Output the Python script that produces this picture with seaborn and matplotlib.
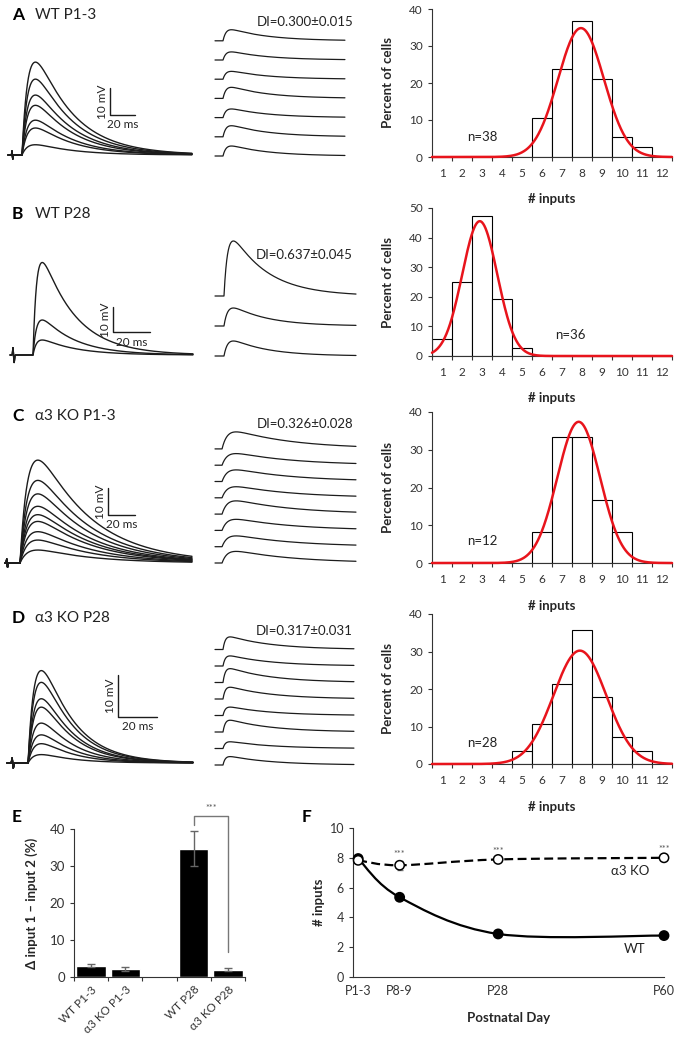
import numpy as np
import pandas as pd
import matplotlib.pyplot as plt
import seaborn as sns
from matplotlib.path import Path
from matplotlib.patches import PathPatch

W, H = 681, 1042

# ---------------- data ----------------
inputs = list(range(1, 13))
pct_wt_p13 = [0, 0, 0, 0, 0, 10.5, 23.7, 36.8, 21.1, 5.3, 2.6, 0]
pct_wt_p28 = [5.6, 25.0, 47.2, 19.4, 2.8, 0, 0, 0, 0, 0, 0, 0]
pct_ko_p13 = [0, 0, 0, 0, 0, 8.3, 33.3, 33.3, 16.7, 8.3, 0, 0]
pct_ko_p28 = [0, 0, 0, 0, 3.6, 10.7, 21.4, 35.7, 17.9, 7.1, 3.6, 0]
n_cells = [38, 36, 12, 28]
group_titles = ['WT P1-3', 'WT P28', 'α3 KO P1-3', 'α3 KO P28']
di_labels = ['DI=0.300±0.015', 'DI=0.637±0.045', 'DI=0.326±0.028', 'DI=0.317±0.031']

# superimposed EPSPs, peak amplitude (mV)
amp_left_a = [34.4, 28.1, 22.2, 18.4, 12.9, 10.0, 3.8]
amp_left_b = [37.0, 14.0, 6.0]
amp_left_c = [38.1, 30.6, 25.6, 21.0, 17.9, 15.4, 11.6, 8.5, 4.8]
amp_left_d = [22.0, 19.2, 15.3, 13.3, 9.5, 6.7, 4.6, 2.0]
# single-input traces, top to bottom (mV)
amp_right_a = [4.1, 3.0, 2.9, 4.1, 3.2, 4.1, 3.7]
amp_right_b = [22.0, 7.2, 6.0]
amp_right_c = [6.3, 4.3, 4.3, 4.1, 4.9, 4.1, 4.0, 4.3]
amp_right_d = [3.0, 2.4, 3.3, 2.8, 2.0, 2.8, 1.6, 2.0]

# panel E
e_groups = ['WT P1-3', 'α3 KO P1-3', 'WT P28', 'α3 KO P28']
e_delta = [3.1, 2.2, 34.7, 2.0]
e_sem = [0.4, 0.5, 4.7, 0.5]

# panel F
f_days = [1, 9, 28, 60]
f_day_labels = ['P1-3', 'P8-9', 'P28', 'P60']
f_wt = [7.95, 5.35, 2.89, 2.78]
f_ko = [7.83, 7.50, 7.89, 8.00]
f_wt_err = [0.12, 0.1, 0.1, 0.1]
f_ko_err = [0.2, 0.3, 0.1, 0.1]

# ---------------- style ----------------
sns.set_style('ticks')
plt.rcParams['font.family'] = ['Lato', 'DejaVu Sans']
plt.rcParams['axes.edgecolor'] = '#333333'
plt.rcParams['xtick.color'] = '#333333'
plt.rcParams['ytick.color'] = '#333333'
plt.rcParams['text.color'] = '#222222'

fig = plt.figure(figsize=(W / 100, H / 100), dpi=100)


def px_ax(l, t, r, b):
    return fig.add_axes([l / W, 1 - b / H, (r - l) / W, (b - t) / H])


def ftext(x, y, s, **kw):
    fig.text(x / W, 1 - y / H, s, **kw)


def epsp(t, onset, tr, td):
    s = np.clip(t - onset, 0, None)
    tp = np.log(td / tr) * tr * td / (td - tr)
    peak = np.exp(-tp / td) - np.exp(-tp / tr)
    return (np.exp(-s / td) - np.exp(-s / tr)) / peak


def artifact(t, ta, a):
    return a * (np.exp(-((t - ta) / 0.25) ** 2) - np.exp(-((t - ta - 0.6) / 0.3) ** 2))


TRACE_LAYOUT = {
    'A': dict(xs=8, xe=192, base=155, pxms=1.25, pxmv=2.7, t_art=3.2, art=1.5, onset=11.2, tr=5, td=30,
              rxs=215, rxe=345, rbase=156, rsp=19.2, ronset=6.4, rtr=2.5, rtd=30, bar=(110, 115)),
    'B': dict(xs=10, xe=193, base=355, pxms=1.87, pxmv=2.5, t_art=1.6, art=3.0, onset=12.3, tr=2, td=18,
              rxs=215, rxe=356, rbase=356, rsp=30, ronset=4.8, rtr=2, rtd=19, bar=(113, 332)),
    'C': dict(xs=5, xe=192, base=563, pxms=1.33, pxmv=2.7, t_art=1.3, art=1.5, onset=11.3, tr=6, td=40,
              rxs=215, rxe=356, rbase=563, rsp=16.3, ronset=5.3, rtr=4, rtd=45, bar=(108, 515)),
    'D': dict(xs=7, xe=193, base=763, pxms=1.95, pxmv=4.2, t_art=2.6, art=1.2, onset=10.8, tr=3.5, td=16,
              rxs=215, rxe=354, rbase=765, rsp=16.5, ronset=4.1, rtr=1.2, rtd=22, bar=(118, 717)),
}
left_amps = [amp_left_a, amp_left_b, amp_left_c, amp_left_d]
right_amps = [amp_right_a, amp_right_b, amp_right_c, amp_right_d]
title_y = [15, 214, 416, 618]
di_y = [22, 255, 424, 631]
trace_col = '#1c1c1c'

for k, key in enumerate('ABCD'):
    L = TRACE_LAYOUT[key]
    # left: superimposed responses
    ax = px_ax(L['xs'] - 3, L['base'] - 118, L['xe'] + 3, L['base'] + 12)
    ax.set_xlim(-3 / L['pxms'], (L['xe'] - L['xs'] + 3) / L['pxms'])
    ax.set_ylim(-12 / L['pxmv'], 118 / L['pxmv'])
    ax.axis('off')
    t = np.arange(0, (L['xe'] - L['xs']) / L['pxms'], 0.05)
    for a in left_amps[k]:
        v = a * epsp(t, L['onset'], L['tr'], L['td']) + artifact(t, L['t_art'], L['art'])
        ax.plot(t, v, color=trace_col, lw=1.0)
    # scale bar
    cx, cy = L['bar']
    tc = (cx - L['xs']) / L['pxms']
    vc = (L['base'] - cy) / L['pxmv']
    ax.plot([tc, tc, tc + 20], [vc + 10, vc, vc], color=trace_col, lw=1.0, clip_on=False)
    ftext(cx - 7, cy - 5 * L['pxmv'], '10 mV', rotation=90, ha='center', va='center', fontsize=8.5)
    ftext(cx + 10 * L['pxms'], cy + 10, '20 ms', ha='center', va='center', fontsize=8.5)

    # right: individual inputs, stacked
    amps = right_amps[k]
    n = len(amps)
    top_base = L['rbase'] - (n - 1) * L['rsp']
    y_top = top_base - max(amps) * L['pxmv'] - 8
    ax = px_ax(L['rxs'] - 2, y_top, L['rxe'] + 2, L['rbase'] + 8)
    ax.set_xlim(-2 / L['pxms'], (L['rxe'] - L['rxs'] + 2) / L['pxms'])
    ax.set_ylim(-8 / L['pxmv'], (L['rbase'] - y_top) / L['pxmv'])
    ax.axis('off')
    tr_ = np.arange(0, (L['rxe'] - L['rxs']) / L['pxms'], 0.05)
    for i, a in enumerate(amps):
        off = (n - 1 - i) * L['rsp'] / L['pxmv']
        ax.plot(tr_, off + a * epsp(tr_, L['ronset'], L['rtr'], L['rtd']), color=trace_col, lw=0.9)

    ftext(12, title_y[k], key, fontsize=12.5, fontweight='bold', ha='left', va='center', color='black')
    ftext(35, title_y[k], group_titles[k], fontsize=11, ha='left', va='center')
    ftext(353, di_y[k], di_labels[k], fontsize=9.5, ha='right', va='center')

# ---------------- histograms ----------------
HIST_LAYOUT = [(9, 157, 40), (208, 356, 50), (412, 563, 40), (614, 764, 40)]
n_pos = [(2, 5.4), (6.4, 7.1), (2, 5.7), (2, 5.7)]
hist_data = [pct_wt_p13, pct_wt_p28, pct_ko_p13, pct_ko_p28]

for k, (top, bot, ymax) in enumerate(HIST_LAYOUT):
    ax = px_ax(432, top, 672, bot)
    df = pd.DataFrame({'inputs': inputs, 'pct': hist_data[k]})
    sns.barplot(data=df, x='inputs', y='pct', order=inputs, color='white', saturation=1,
                edgecolor='black', linewidth=0.8, width=1.0, ax=ax)
    x = np.array(inputs, dtype=float)
    p = np.array(hist_data[k]) / np.sum(hist_data[k])
    mu = np.sum(x * p)
    sd = np.sqrt(np.sum((x - mu) ** 2 * p))
    xg = np.linspace(0.5, 12.5, 400)
    yg = 100 * np.exp(-0.5 * ((xg - mu) / sd) ** 2) / (sd * np.sqrt(2 * np.pi))
    ax.plot(xg - 1, yg, color='#e8141c', lw=1.8, zorder=6, clip_on=False)
    ax.set_xlim(-0.5, 11.5)
    ax.set_ylim(0, ymax)
    ax.set_yticks(np.arange(0, ymax + 1, 10))
    ax.set_xticks(np.arange(-0.5, 12, 1))
    ax.set_xticklabels([])
    ax.set_xticks(range(12), minor=True)
    ax.set_xticklabels(inputs, minor=True)
    ax.tick_params(axis='x', which='major', length=3, width=0.8)
    ax.tick_params(axis='x', which='minor', length=0, pad=8, labelsize=8.5)
    ax.tick_params(axis='y', length=3, width=0.8, labelsize=8.5)
    sns.despine(ax=ax)
    ax.set_ylabel('Percent of cells', fontsize=9.5, fontweight='bold')
    ax.set_xlabel('# inputs', fontsize=9.5, fontweight='bold')
    ax.yaxis.set_label_coords(-0.16, 0.5)
    ax.xaxis.set_label_coords(0.5, -0.245)
    ax.text(n_pos[k][0], n_pos[k][1], f'n={n_cells[k]}', ha='center', va='center', fontsize=9.5)

# ---------------- panel E ----------------
ax = px_ax(74, 829, 245, 977)
e_order = ['WT P1-3', 'α3 KO P1-3', ' ', 'WT P28', 'α3 KO P28']
df_e = pd.DataFrame({'group': e_groups, 'delta': e_delta})
sns.barplot(data=df_e, x='group', y='delta', order=e_order, color='black', saturation=1,
            width=0.86, errorbar=None, ax=ax)
pos = [e_order.index(g) for g in e_groups]
ax.errorbar(pos, e_delta, yerr=e_sem, fmt='none', ecolor='#666666', elinewidth=1.0, capsize=3, capthick=1.0)
ax.set_xlim(-0.5, 4.5)
ax.set_ylim(0, 40)
ax.set_yticks([0, 10, 20, 30, 40])
ax.set_xticks(np.arange(-0.5, 5, 1))
ax.set_xticklabels([])
ax.set_xticks(range(5), minor=True)
ax.set_xticklabels(e_order, minor=True, rotation=45, ha='right', rotation_mode='anchor')
ax.tick_params(axis='x', which='major', length=3, width=0.8)
ax.tick_params(axis='x', which='minor', length=0, pad=5, labelsize=8.5)
ax.tick_params(axis='y', length=3, width=0.8, labelsize=9.5)
sns.despine(ax=ax)
ax.set_xlabel('')
ax.set_ylabel('Δ input 1 – input 2 (%)', fontsize=9.5, fontweight='bold')
ax.yaxis.set_label_coords(-0.21, 0.5)
# significance bracket between WT P28 and a3 KO P28
i3, i4 = pos[2], pos[3]
y_top = 43.6
ax.plot([i3, i3, i4, i4], [e_delta[2] + e_sem[2] + 1.8, y_top, y_top, e_delta[3] + e_sem[3] + 4.3],
        color='#777777', lw=1.0, clip_on=False)
ax.text((i3 + i4) / 2, y_top + 0.8, '***', ha='center', va='bottom', fontsize=6.5, color='#555555')
ftext(12, 817, 'E', fontsize=12.5, fontweight='bold', ha='left', va='center', color='black')

# ---------------- panel F ----------------
ax = px_ax(353, 828, 664, 977)


def smooth_path(xs, ys):
    pts = np.column_stack([xs, ys]).astype(float)
    P = np.vstack([pts[0], pts, pts[-1]])
    verts = [pts[0]]
    codes = [Path.MOVETO]
    for i in range(1, len(P) - 2):
        p0, p1, p2, p3 = P[i - 1], P[i], P[i + 1], P[i + 2]
        verts += [p1 + (p2 - p0) / 6, p2 - (p3 - p1) / 6, p2]
        codes += [Path.CURVE4] * 3
    return Path(verts, codes)


ax.add_patch(PathPatch(smooth_path(f_days, f_wt), fill=False, lw=1.6, color='black', zorder=3))
ax.add_patch(PathPatch(smooth_path(f_days, f_ko), fill=False, lw=1.6, ls=(0, (4, 2)), color='black', zorder=3))
ax.errorbar(f_days, f_wt, yerr=f_wt_err, fmt='none', ecolor='#777777', elinewidth=1, capsize=2.5, zorder=4)
ax.errorbar(f_days, f_ko, yerr=f_ko_err, fmt='none', ecolor='#777777', elinewidth=1, capsize=2.5, zorder=4)
df_f = pd.DataFrame({'day': f_days * 2, 'inputs': f_wt + f_ko,
                     'genotype': ['WT'] * 4 + ['α3 KO'] * 4})
sns.scatterplot(data=df_f, x='day', y='inputs', hue='genotype',
                palette={'WT': 'black', 'α3 KO': 'white'}, edgecolor='black', linewidth=1.1,
                s=45, legend=False, ax=ax, zorder=5, clip_on=False)
for d, v, e in zip(f_days[1:], f_ko[1:], f_ko_err[1:]):
    ax.text(d, v + e + 0.45, '***', ha='center', va='center', fontsize=6.5, color='#555555')
ax.text(53.4, 7.1, 'α3 KO', ha='center', va='center', fontsize=9.5)
ax.text(54.4, 1.9, 'WT', ha='center', va='center', fontsize=9.5)
ax.set_xlim(0, 60)
ax.set_ylim(0, 10)
ax.set_yticks([0, 2, 4, 6, 8, 10])
ax.set_xticks(f_days)
ax.set_xticklabels(f_day_labels)
ax.tick_params(axis='x', length=0, pad=6, labelsize=9)
ax.tick_params(axis='y', length=3, width=0.8, labelsize=9)
sns.despine(ax=ax)
ax.set_xlabel('Postnatal Day', fontsize=9.5, fontweight='bold')
ax.set_ylabel('# inputs', fontsize=9.5, fontweight='bold')
ax.yaxis.set_label_coords(-0.09, 0.5)
ax.xaxis.set_label_coords(0.5, -0.235)
ftext(302, 817, 'F', fontsize=12.5, fontweight='bold', ha='left', va='center', color='black')

fig.savefig('out.png', dpi=100)
